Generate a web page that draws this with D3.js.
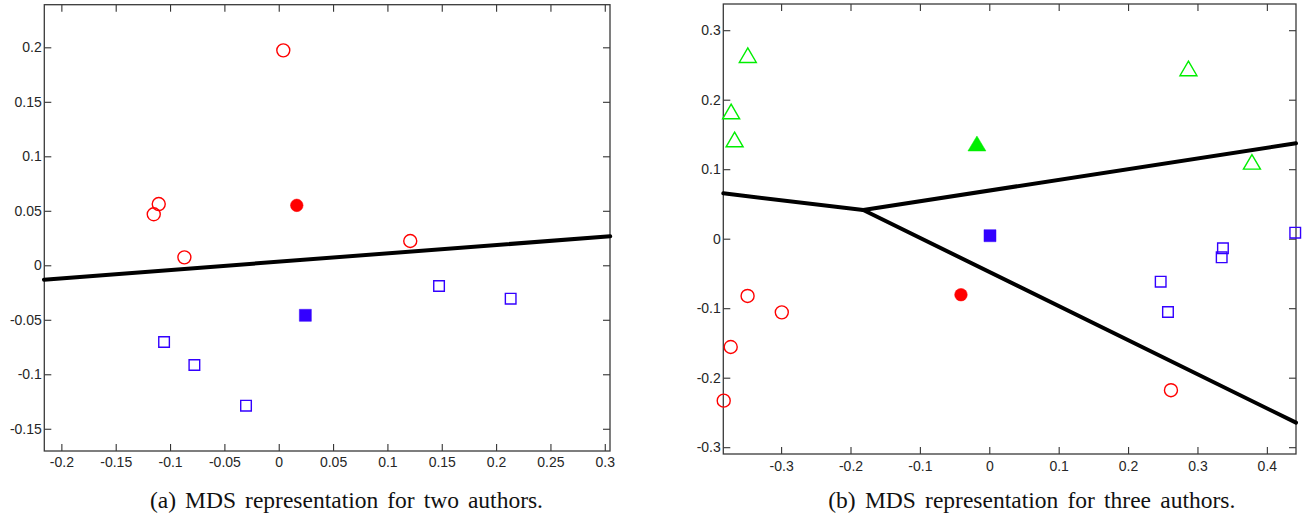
<!DOCTYPE html>
<html lang="en">
<head>
    <meta charset="UTF-8">
    <title>MDS representation</title>
    <script src="https://d3js.org/d3.v7.min.js"></script>
    <style>
        body { margin: 0; background: #fff; }
        .tick text { font-family: "Liberation Sans", Arial, sans-serif; font-size: 14px; fill: #262626; }
        .caption { font-family: "Liberation Serif", "Times New Roman", serif; font-size: 23.5px; fill: #111; }
    </style>
</head>
<body>
    <div id="chart"></div>

    <script>
        // (a) two authors
        var aXTicks = [-0.2, -0.15, -0.1, -0.05, 0, 0.05, 0.1, 0.15, 0.2, 0.25, 0.3];
        var aYTicks = [-0.15, -0.1, -0.05, 0, 0.05, 0.1, 0.15, 0.2];
        var aCircles = [[0.0042, 0.1972], [-0.1104, 0.0562], [-0.115, 0.0468], [-0.0868, 0.0073], [0.121, 0.0223]];
        var aCircleFilled = [[0.0166, 0.055]];
        var aSquares = [[-0.1055, -0.0704], [-0.0776, -0.0915], [-0.0301, -0.1288], [0.1475, -0.019], [0.2134, -0.0306]];
        var aSquareFilled = [[0.0245, -0.0459]];
        var aBoundary = [[[-0.216, -0.0132], [0.305, 0.0266]]];

        // (b) three authors
        var bXTicks = [-0.3, -0.2, -0.1, 0, 0.1, 0.2, 0.3, 0.4];
        var bYTicks = [-0.3, -0.2, -0.1, 0, 0.1, 0.2, 0.3];
        var bTriangles = [[-0.348, 0.264], [-0.372, 0.183], [-0.367, 0.1427], [0.287, 0.245], [0.3785, 0.1106]];
        var bTriangleFilled = [[-0.0178, 0.137]];
        var bCircles = [[-0.3483, -0.0824], [-0.299, -0.106], [-0.3726, -0.1558], [-0.3827, -0.233], [0.2618, -0.218]];
        var bCircleFilled = [[-0.0408, -0.0806]];
        var bSquares = [[0.247, -0.0619], [0.2575, -0.1055], [0.3367, -0.0138], [0.3349, -0.0268], [0.4409, 0.0086]];
        var bSquareFilled = [[0.001, 0.0043]];
        var bBoundary = [
            [[-0.3833, 0.0653], [-0.1816, 0.0413]],
            [[-0.1816, 0.0413], [0.442, 0.1373]],
            [[-0.1816, 0.0413], [0.442, -0.2647]]
        ];

        var red = "#ff0000", blue = "#3300ff", green = "#00ee00";

        var svg = d3.select("#chart")
            .append("svg")
            .attr("width", 1303)
            .attr("height", 516);

        var fmt = function(d) { return String(+d.toFixed(2)); };

        // marker shapes
        var shapes = {
            circle: "M6.5,0A6.5,6.5 0 1,1 -6.5,0A6.5,6.5 0 1,1 6.5,0Z",
            circleFilled: "M6.3,0A6.3,6.3 0 1,1 -6.3,0A6.3,6.3 0 1,1 6.3,0Z",
            square: "M-5.3,-5.3H5.3V5.3H-5.3Z",
            squareFilled: "M-6,-6H6V6H-6Z",
            triangle: "M0,-7.3L8.5,7.3H-8.5Z",
            triangleFilled: "M0,-7.5L9,7.5H-9Z"
        };

        function panel(p) {
            var x = d3.scaleLinear().domain(p.xDomain).range([p.left, p.right]);
            var y = d3.scaleLinear().domain(p.yDomain).range([p.bottom, p.top]);
            var g = svg.append("g");

            // ticks on all four sides, pointing inward
            g.append("g")
                .attr("transform", "translate(0," + p.bottom + ")")
                .call(d3.axisBottom(x).tickValues(p.xTicks).tickFormat(fmt).tickSize(-7).tickPadding(p.xPad));
            g.append("g")
                .attr("transform", "translate(0," + p.top + ")")
                .call(d3.axisTop(x).tickValues(p.xTicks).tickFormat("").tickSize(-7));
            g.append("g")
                .attr("transform", "translate(" + p.left + ",0)")
                .call(d3.axisLeft(y).tickValues(p.yTicks).tickFormat(fmt).tickSize(-7).tickPadding(2.5));
            g.append("g")
                .attr("transform", "translate(" + p.right + ",0)")
                .call(d3.axisRight(y).tickValues(p.yTicks).tickFormat("").tickSize(-7));
            g.selectAll(".domain").remove();
            g.selectAll(".tick line").attr("stroke", "#333").attr("stroke-width", 1.1);

            g.append("rect")
                .attr("x", p.left).attr("y", p.top)
                .attr("width", p.right - p.left).attr("height", p.bottom - p.top)
                .attr("fill", "none").attr("stroke", "#3a3a3a").attr("stroke-width", 1.3);

            // decision boundaries
            g.selectAll(".boundary")
                .data(p.boundary)
                .enter().append("path")
                .attr("d", d3.line().x(function(d) { return x(d[0]); }).y(function(d) { return y(d[1]); }))
                .attr("fill", "none").attr("stroke", "#000").attr("stroke-width", 4)
                .attr("stroke-linecap", "round");

            p.series.forEach(function(s) {
                g.selectAll(null)
                    .data(s.data)
                    .enter().append("path")
                    .attr("transform", function(d) { return "translate(" + x(d[0]) + "," + y(d[1]) + ")"; })
                    .attr("d", shapes[s.shape])
                    .attr("fill", s.filled ? s.color : "none")
                    .attr("stroke", s.color)
                    .attr("stroke-width", s.filled ? 0.5 : 1.4);
            });

            var cap = svg.append("text")
                .attr("class", "caption")
                .attr("x", p.capLeft).attr("y", 508)
                .text(p.caption);
            var extra = (p.capWidth - cap.node().getComputedTextLength()) / 5;
            cap.attr("word-spacing", extra);
        }

        panel({
            left: 44.3, right: 610, top: 4.7, bottom: 451,
            xDomain: [-0.2157, 0.3048], yDomain: [-0.1704, 0.2391],
            xTicks: aXTicks, yTicks: aYTicks, xPad: 6,
            boundary: aBoundary,
            series: [
                { data: aCircles, shape: "circle", color: red },
                { data: aCircleFilled, shape: "circleFilled", color: red, filled: true },
                { data: aSquares, shape: "square", color: blue },
                { data: aSquareFilled, shape: "squareFilled", color: blue, filled: true }
            ],
            caption: "(a) MDS representation for two authors.",
            capLeft: 150, capWidth: 393
        });

        panel({
            left: 723.3, right: 1296, top: 4, bottom: 454,
            xDomain: [-0.3833, 0.442], yDomain: [-0.3098, 0.3377],
            xTicks: bXTicks, yTicks: bYTicks, xPad: 7,
            boundary: bBoundary,
            series: [
                { data: bTriangles, shape: "triangle", color: green },
                { data: bTriangleFilled, shape: "triangleFilled", color: green, filled: true },
                { data: bCircles, shape: "circle", color: red },
                { data: bCircleFilled, shape: "circleFilled", color: red, filled: true },
                { data: bSquares, shape: "square", color: blue },
                { data: bSquareFilled, shape: "squareFilled", color: blue, filled: true }
            ],
            caption: "(b) MDS representation for three authors.",
            capLeft: 828.3, capWidth: 407
        });
    </script>
</body>
</html>
